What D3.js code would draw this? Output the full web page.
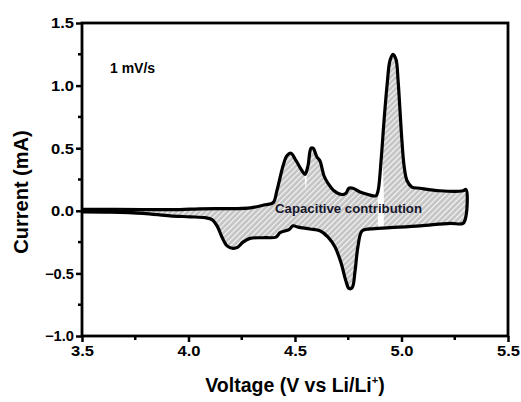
<!DOCTYPE html>
<html>
<head>
<meta charset="utf-8">
<script src="https://cdn.jsdelivr.net/npm/d3@7"></script>
<style>
  body { margin: 0; background: #fff; }
  text { font-family: Arial, "Liberation Sans", sans-serif; font-weight: bold; }
</style>
</head>
<body>
<svg id="chart" width="521" height="402"></svg>
<script>
// anodic scan (3.5 -> 5.3 V)
var forwardV = [3.50, 3.78, 3.96, 4.05, 4.29, 4.36, 4.397, 4.415, 4.444, 4.462, 4.481, 4.505, 4.533, 4.547, 4.561, 4.575, 4.585, 4.603, 4.617, 4.636, 4.655, 4.683, 4.72, 4.739, 4.753, 4.772, 4.805, 4.843, 4.88, 4.89, 4.904, 4.918, 4.932, 4.946, 4.96, 4.974, 4.984, 4.993, 5.002, 5.012, 5.026, 5.049, 5.087, 5.18, 5.289, 5.303];
var forwardI = [0.012, 0.01, 0.01, 0.016, 0.024, 0.048, 0.064, 0.16, 0.36, 0.44, 0.46, 0.40, 0.32, 0.29, 0.36, 0.50, 0.50, 0.43, 0.40, 0.28, 0.22, 0.16, 0.13, 0.14, 0.18, 0.18, 0.15, 0.13, 0.12, 0.16, 0.40, 0.72, 1.00, 1.20, 1.25, 1.21, 1.04, 0.80, 0.56, 0.36, 0.24, 0.19, 0.18, 0.16, 0.16, 0.17];

// cathodic scan (5.3 -> 3.5 V)
var reverseV = [5.303, 5.289, 5.228, 5.087, 4.946, 4.852, 4.815, 4.796, 4.782, 4.768, 4.753, 4.739, 4.716, 4.688, 4.655, 4.617, 4.57, 4.514, 4.491, 4.472, 4.43, 4.411, 4.359, 4.289, 4.256, 4.232, 4.209, 4.181, 4.157, 4.134, 4.11, 4.077, 4.007, 3.913, 3.786, 3.631, 3.50];
var reverseI = [-0.04, -0.10, -0.10, -0.12, -0.135, -0.145, -0.16, -0.28, -0.48, -0.615, -0.62, -0.56, -0.415, -0.29, -0.21, -0.16, -0.145, -0.13, -0.12, -0.15, -0.175, -0.21, -0.215, -0.22, -0.25, -0.29, -0.30, -0.28, -0.21, -0.12, -0.07, -0.055, -0.048, -0.04, -0.02, -0.01, -0.008];

// small unshaded slivers inside the loop
var gapA = [[4.545, 0.28], [4.556, 0.28], [4.551, 0.15]];
var gapB = [[4.889, 0.13], [4.906, 0.45], [4.914, 0.30], [4.917, 0.12], [4.917, -0.14], [4.889, -0.14]];

var xTicks = [3.5, 4.0, 4.5, 5.0, 5.5];
var yTicks = [-1.0, -0.5, 0.0, 0.5, 1.0, 1.5];
var xMinor = [3.75, 4.25, 4.75, 5.25];
var yMinor = [-0.75, -0.25, 0.25, 0.75, 1.25];

var svg = d3.select("#chart");

// plot frame in pixels
var pLeft = 82, pRight = 508, pTop = 23, pBottom = 336;

var x = d3.scaleLinear().domain([3.5, 5.5]).range([pLeft, pRight]);
var y = d3.scaleLinear().domain([-1.0, 1.5]).range([pBottom, pTop]);

// hatch pattern
var defs = svg.append("defs");
var pat = defs.append("pattern")
    .attr("id", "hatch")
    .attr("patternUnits", "userSpaceOnUse")
    .attr("width", 4)
    .attr("height", 4)
    .attr("patternTransform", "rotate(45)");
pat.append("rect").attr("width", 4).attr("height", 4).attr("fill", "#c4c4c4");
pat.append("line")
    .attr("x1", 0.6).attr("y1", 0).attr("x2", 0.6).attr("y2", 4)
    .style("stroke", "#f4f4f4")
    .style("stroke-width", 1.3);

var loop = [];
forwardV.forEach(function (v, i) { loop.push([v, forwardI[i]]); });
reverseV.forEach(function (v, i) { loop.push([v, reverseI[i]]); });

var line = d3.line()
    .x(function (d) { return x(d[0]); })
    .y(function (d) { return y(d[1]); })
    .curve(d3.curveCatmullRom.alpha(0.5));

svg.append("path")
    .attr("d", line(loop))
    .attr("fill", "url(#hatch)")
    .attr("stroke", "none");

var poly = d3.line()
    .x(function (d) { return x(d[0]); })
    .y(function (d) { return y(d[1]); });
[gapA, gapB].forEach(function (g) {
    svg.append("path").attr("d", poly(g) + "Z").attr("fill", "#fff");
});

svg.append("text")
    .attr("x", 275)
    .attr("y", 213)
    .attr("textLength", 147)
    .attr("lengthAdjust", "spacingAndGlyphs")
    .style("font-size", "12.5px")
    .style("fill", "#15152a")
    .text("Capacitive contribution");

svg.append("path")
    .attr("d", line(loop))
    .attr("fill", "none")
    .attr("stroke", "#000")
    .attr("stroke-width", 3.2)
    .attr("stroke-linejoin", "round");

// frame
svg.append("rect")
    .attr("x", pLeft).attr("y", pTop)
    .attr("width", pRight - pLeft).attr("height", pBottom - pTop)
    .attr("fill", "none")
    .attr("stroke", "#000")
    .attr("stroke-width", 2.8);

// axes
var xAxis = d3.axisBottom(x).tickValues(xTicks).tickFormat(d3.format(".1f")).tickSize(6).tickPadding(4);
var gx = svg.append("g").attr("transform", "translate(0," + pBottom + ")").call(xAxis);
var yAxis = d3.axisLeft(y).tickValues(yTicks).tickFormat(d3.format(".1f")).tickSize(6).tickPadding(5);
var gy = svg.append("g").attr("transform", "translate(" + pLeft + ",0)").call(yAxis);

[gx, gy].forEach(function (g) {
    g.select(".domain").remove();
    g.selectAll(".tick line").attr("stroke", "#000").attr("stroke-width", 2.5);
    g.selectAll(".tick text")
        .style("font-size", "14px")
        .style("font-family", "Arial, 'Liberation Sans', sans-serif")
        .style("font-weight", "bold")
        .attr("fill", "#000")
        .attr("textLength", 23)
        .attr("lengthAdjust", "spacingAndGlyphs");
});
gy.selectAll(".tick text").attr("dy", "0.35em").attr("x", -8);
gy.selectAll(".tick text").filter(function (d) { return d < 0; }).attr("textLength", 29);

// minor ticks
svg.selectAll(".xminor").data(xMinor).enter().append("line")
    .attr("x1", function (d) { return x(d); }).attr("x2", function (d) { return x(d); })
    .attr("y1", pBottom).attr("y2", pBottom + 4)
    .attr("stroke", "#000").attr("stroke-width", 2.5);
svg.selectAll(".yminor").data(yMinor).enter().append("line")
    .attr("y1", function (d) { return y(d); }).attr("y2", function (d) { return y(d); })
    .attr("x1", pLeft).attr("x2", pLeft - 4)
    .attr("stroke", "#000").attr("stroke-width", 2.5);

// labels
svg.append("text")
    .attr("x", 110).attr("y", 73)
    .style("font-size", "14px")
    .text("1 mV/s");

var xt = svg.append("text")
    .attr("x", x(4.5)).attr("y", 392)
    .attr("text-anchor", "middle")
    .style("font-size", "19.5px");
xt.append("tspan").text("Voltage (V vs Li/Li");
xt.append("tspan").attr("dy", -8).style("font-size", "11px").text("+");
xt.append("tspan").attr("dy", 8).text(")");

svg.append("text")
    .attr("transform", "translate(28," + 192 + ") rotate(-90)")
    .attr("text-anchor", "middle")
    .style("font-size", "20px")
    .text("Current (mA)");
</script>
</body>
</html>
